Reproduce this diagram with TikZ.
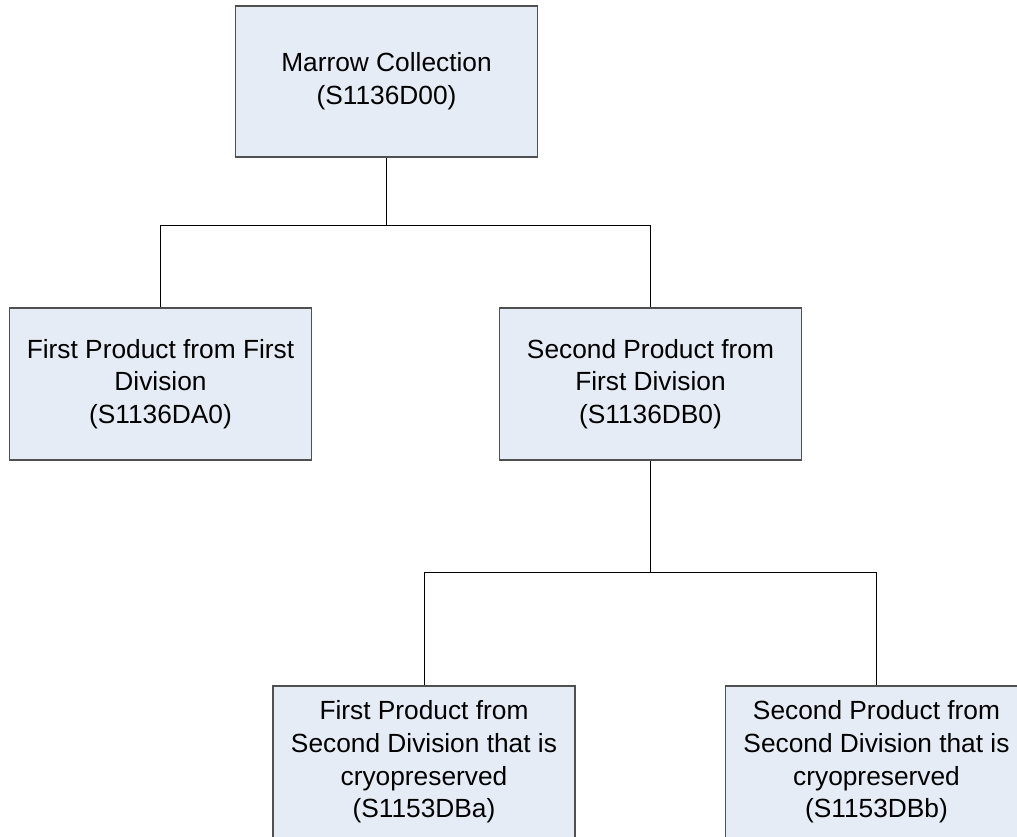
\documentclass[tikz,border=0pt]{standalone}
\usepackage{fontspec}
\setmainfont{Liberation Sans}
\definecolor{boxfill}{RGB}{230,236,246}
\definecolor{boxline}{RGB}{80,80,80}
\begin{document}
\begin{tikzpicture}[x=1pt,y=-1pt,
  orgbox/.style={draw=boxline, line width=1.3pt, fill=boxfill, minimum width=302pt, minimum height=152pt,
    inner sep=0pt, align=center, font=\fontsize{26.3}{32.7}\selectfont},
  link/.style={draw=black, line width=1pt}]
\useasboundingbox (0,0) rectangle (1017,836);
\clip (0,0) rectangle (1017,836);
\fill[white] (0,0) rectangle (1017,836);
\node[orgbox, minimum height=151pt] (b1) at (386.5,81.5) {Marrow Collection\\(S1136D00)};
\node[orgbox] (b2) at (160.5,384) {First Product from First\\Division\\(S1136DA0)};
\node[orgbox] (b3) at (650.5,384) {Second Product from\\First Division\\(S1136DB0)};
\node[orgbox] (b4) at (424,762) {First Product from\\Second Division that is\\cryopreserved\\(S1153DBa)};
\node[orgbox] (b5) at (876.5,762) {Second Product from\\Second Division that is\\cryopreserved\\(S1153DBb)};
\coordinate (j1) at (386.5,225);
\coordinate (j2) at (650.5,572);
\draw[link] (b1.south) -- (j1) -| (b2.north);
\draw[link] (j1) -| (b3.north);
\draw[link] (b3.south) -- (j2) -| (b4.north);
\draw[link] (j2) -| (b5.north);
\end{tikzpicture}
\end{document}
